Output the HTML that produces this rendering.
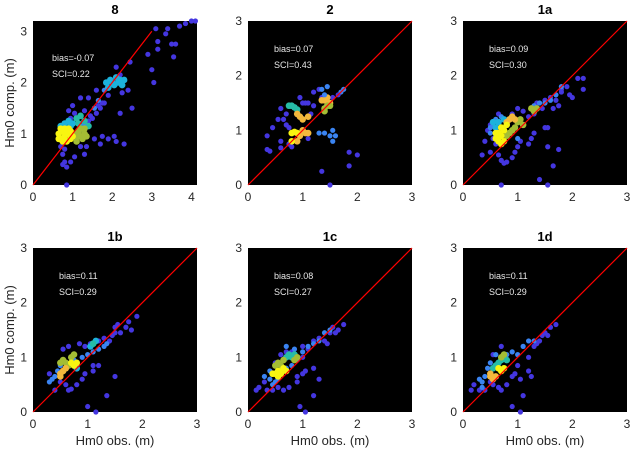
<!DOCTYPE html>
<html><head><meta charset="utf-8"><style>
body{margin:0;background:#fff}
svg{display:block;font-family:"Liberation Sans",Arial,sans-serif}
</style></head><body>
<svg id="fig" width="637" height="455" viewBox="0 0 637 455"></svg>
<script>
const panelNames = ["8","2","1a","1b","1c","1d"];
const biasVals = ["-0.07","0.07","0.09","0.11","0.08","0.11"];
const sciVals = ["0.22","0.43","0.30","0.29","0.27","0.29"];
const xMaxes = [4.14,3,3,3,3,3];
const yMaxes = [3.2,3,3,3,3,3];
const xTicks8 = [0,1,2,3,4];
const ticks3 = [0,1,2,3];
const densColors = ["#4436e0","#3a84f2","#1cb2dc","#26bca6","#a4bd34","#f3b83c","#f8f510"];
const p8 = [[4.1,3.2,0],[4.0,3.2,0],[3.85,3.15,0],[3.7,3.1,0],[3.4,3.05,0],[3.1,3.05,0],[3.35,2.95,0],[3.5,2.75,0],[3.6,2.75,0],[3.15,2.8,0],[3.15,2.65,0],[2.9,2.55,0],[3.55,2.5,0],[3.0,2.25,0],[3.05,2.0,0],[2.4,1.85,0],[2.25,1.8,0],[2.2,1.4,0],[2.5,1.5,0],[2.45,2.4,0],[2.2,2.15,0],[2.1,2.3,0],[1.75,1.6,0],[1.6,1.85,0],[1.65,1.55,0],[1.4,1.7,0],[1.2,1.7,0],[1.0,1.55,0],[0.9,1.45,0],[1.05,1.4,0],[1.3,1.45,0],[0.95,1.3,0],[1.75,0.95,0],[1.55,0.9,0],[1.9,0.9,0],[2.05,0.95,0],[2.1,0.85,0],[2.3,0.8,0],[1.2,0.75,0],[1.3,0.6,0],[1.05,0.55,0],[0.95,0.45,0],[0.8,0.45,0],[0.75,0.4,0],[0.85,0.35,0],[0.75,0.6,0],[0.8,0.7,0],[0.7,0.75,0],[0.85,0.0,0],[1.7,0.8,0],[1.35,0.75,0],[1.4,1.25,0],[1.5,1.3,0],[1.6,1.4,0],[1.7,1.5,0],[1.8,1.6,0],[1.9,1.75,0],[1.45,1.35,0],[1.55,1.5,1],[1.65,1.65,1],[1.8,1.85,1],[1.3,1.2,1],[1.2,1.15,1],[1.85,2.0,2],[1.95,2.05,2],[2.05,1.95,2],[2.15,2.0,2],[2.2,2.05,2],[1.9,1.9,2],[2.0,2.0,2],[2.1,2.1,2],[2.25,1.95,2],[2.3,2.05,2],[0.7,1.15,2],[0.8,1.2,2],[0.9,1.25,2],[1.0,1.2,2],[1.1,1.3,3],[1.2,1.35,3],[1.3,1.25,3],[0.75,1.1,2],[0.95,1.15,2],[1.15,1.2,3],[1.25,1.1,3],[1.4,1.15,3],[1.1,0.95,4],[1.2,0.95,4],[1.3,1.0,4],[1.15,1.05,4],[1.25,0.9,4],[1.35,0.95,4],[1.1,0.85,4],[1.2,1.1,4],[1.05,1.0,4],[1.3,1.1,4],[0.65,1.0,6],[0.7,0.9,6],[0.75,1.05,6],[0.8,0.95,6],[0.85,0.85,6],[0.9,1.0,6],[0.95,0.9,6],[0.7,1.1,6],[0.8,1.1,6],[0.9,1.1,6],[1.0,0.95,6],[0.75,0.85,6],[0.85,1.0,6],[0.95,1.05,6],[0.65,0.9,6]];
const p2 = [[0.55,1.2,0],[0.6,1.4,0],[0.35,0.9,0],[0.35,0.65,0],[0.4,0.62,0],[0.45,1.05,0],[0.6,0.8,0],[0.6,0.68,0],[0.7,1.1,0],[0.65,1.2,0],[0.7,1.3,0],[0.75,1.05,0],[0.75,0.75,0],[0.8,0.7,0],[0.95,1.6,0],[1.0,1.5,0],[1.05,1.5,0],[1.1,1.5,0],[1.2,1.45,0],[1.15,1.3,0],[1.2,1.7,0],[1.3,1.75,0],[1.35,1.6,0],[1.45,1.8,1],[1.1,0.85,0],[1.55,1.6,0],[1.7,1.7,1],[1.85,0.6,0],[2.0,0.55,0],[1.85,0.35,0],[1.35,0.25,0],[1.5,0.0,0],[1.3,0.95,1],[1.4,0.95,1],[1.5,0.9,1],[1.55,0.8,1],[1.6,0.9,1],[1.55,1.0,1],[0.75,1.45,3],[0.8,1.45,3],[0.85,1.42,3],[0.9,1.38,3],[0.9,1.3,5],[0.95,1.25,5],[1.0,1.2,5],[1.1,1.25,5],[1.35,1.55,5],[1.4,1.55,5],[1.45,1.6,5],[1.5,1.5,5],[0.95,0.9,5],[1.05,0.95,5],[1.1,0.95,5],[0.9,0.8,5],[0.8,0.8,6],[1.0,1.0,5],[0.8,0.95,6],[0.85,0.97,6],[0.9,0.95,6],[1.4,1.4,4],[1.45,1.45,4],[1.5,1.45,4],[1.4,1.35,4],[1.35,1.75,1],[1.4,1.65,1],[1.75,1.75,1],[1.65,1.65,0]];
const p1a = [[0.4,0.8,0],[0.35,0.55,0],[0.5,0.6,0],[0.65,0.55,0],[0.7,0.45,0],[0.75,0.4,0],[0.8,0.42,0],[0.9,0.5,0],[0.95,0.6,0],[1.0,0.7,0],[1.05,0.8,0],[1.2,0.75,0],[1.25,0.85,0],[1.3,0.95,0],[1.5,1.05,0],[1.55,1.05,0],[1.55,0.7,0],[1.75,0.65,0],[1.65,0.35,0],[1.4,0.1,0],[1.55,0.0,0],[0.7,0.0,0],[1.0,1.4,0],[0.9,1.3,0],[0.65,1.3,0],[1.1,1.35,0],[1.35,1.5,0],[1.5,1.55,0],[1.6,1.6,0],[1.7,1.55,0],[1.8,1.7,0],[1.8,1.75,0],[1.9,1.8,0],[1.95,1.65,0],[2.1,1.95,0],[2.2,1.95,0],[2.2,1.75,0],[2.0,1.6,0],[1.75,1.45,0],[1.65,1.4,0],[1.45,1.4,0],[1.3,1.3,0],[1.2,1.25,0],[0.45,1.0,0],[0.5,1.1,0],[0.55,0.85,0],[0.6,0.75,0],[0.5,1.05,1],[0.55,1.1,1],[0.6,0.9,1],[0.6,1.2,1],[0.7,1.25,1],[1.0,0.85,1],[1.1,1.1,1],[1.3,1.45,1],[1.4,1.5,1],[1.5,1.5,1],[1.6,1.55,1],[1.7,1.65,1],[1.8,1.8,1],[0.5,0.95,1],[0.55,1.15,2],[0.6,1.05,2],[0.65,1.15,2],[0.75,1.2,2],[0.8,0.9,4],[0.85,0.95,4],[0.9,1.0,4],[0.95,1.05,4],[1.0,1.15,4],[1.05,1.2,4],[1.1,1.1,4],[1.3,1.35,4],[1.35,1.4,4],[1.25,1.4,4],[0.85,1.2,5],[0.9,1.25,5],[0.95,1.2,5],[0.8,1.15,5],[0.6,0.85,6],[0.65,0.95,6],[0.7,0.9,6],[0.7,1.05,6],[0.75,1.0,6],[0.65,0.8,6],[0.75,0.8,6],[0.8,1.1,6],[0.6,0.95,6],[0.7,0.75,6]];
const p1b = [[0.3,0.7,0],[0.4,0.4,0],[0.5,0.55,0],[0.6,0.5,0],[0.65,0.4,0],[0.7,0.42,0],[0.8,0.5,0],[0.9,0.6,0],[0.95,0.7,0],[1.1,0.75,0],[1.1,0.85,0],[1.2,0.85,0],[1.5,0.65,0],[1.35,0.3,0],[1.0,0.1,0],[1.15,0.0,0],[0.55,1.15,0],[0.65,1.2,0],[0.85,1.25,0],[0.95,1.2,0],[1.05,1.25,0],[1.2,1.3,0],[1.3,1.35,0],[1.4,1.3,0],[1.5,1.55,0],[1.55,1.6,0],[1.7,1.55,0],[1.75,1.65,0],[1.8,1.5,0],[1.9,1.75,0],[1.45,1.4,0],[1.5,1.45,0],[1.6,1.45,0],[0.3,0.55,1],[0.35,0.6,1],[0.4,0.65,1],[0.45,0.75,1],[0.5,0.85,1],[0.9,1.0,1],[1.0,1.05,1],[1.1,1.1,1],[1.2,1.15,1],[1.3,1.2,1],[1.35,1.25,1],[0.8,0.85,1],[0.75,0.95,1],[1.05,1.2,2],[1.1,1.25,2],[1.15,1.3,2],[0.8,0.8,2],[1.1,1.25,3],[0.55,0.95,4],[0.6,0.9,4],[0.65,0.85,4],[0.7,1.0,4],[0.75,1.05,4],[0.5,0.9,4],[0.5,0.7,5],[0.55,0.75,5],[0.5,0.65,5],[0.6,0.8,5],[0.7,0.9,6],[0.75,0.85,6],[0.8,0.9,6]];
const p1c = [[0.15,0.4,0],[0.2,0.45,0],[0.3,0.55,0],[0.35,0.4,0],[0.45,0.4,0],[0.55,0.45,0],[0.65,0.4,0],[0.75,0.45,0],[0.9,0.55,0],[0.9,0.65,0],[1.0,0.7,0],[1.05,0.75,0],[1.2,0.8,0],[1.3,0.6,0],[1.2,0.3,0],[0.95,0.1,0],[1.05,0.0,0],[0.5,0.9,0],[0.6,1.05,0],[0.7,1.1,0],[0.8,1.1,0],[1.0,1.0,0],[1.1,1.15,0],[1.2,1.3,0],[1.3,1.35,0],[1.4,1.3,0],[1.5,1.45,0],[1.6,1.45,0],[1.65,1.5,0],[1.75,1.6,0],[1.55,1.55,0],[1.45,1.25,0],[1.0,1.2,0],[0.3,0.65,1],[0.4,0.6,1],[0.45,0.5,1],[0.5,0.55,1],[0.55,0.6,1],[0.6,0.7,1],[0.7,0.8,1],[0.8,0.85,1],[0.9,0.95,1],[1.0,1.1,1],[1.1,1.2,1],[1.2,1.25,1],[1.3,1.3,1],[1.4,1.45,1],[1.5,1.5,1],[0.7,1.2,1],[0.85,1.15,1],[0.4,0.75,1],[0.7,1.0,3],[0.75,1.05,3],[0.8,1.0,3],[0.85,1.05,3],[0.5,0.85,4],[0.55,0.9,4],[0.6,0.85,4],[0.65,0.95,4],[0.85,0.95,4],[0.9,1.0,4],[0.5,0.7,6],[0.55,0.75,6],[0.6,0.7,6],[0.65,0.8,6],[0.7,0.75,6],[0.55,0.65,6],[0.45,0.7,6]];
const p1d = [[0.15,0.4,0],[0.2,0.5,0],[0.3,0.4,0],[0.4,0.4,0],[0.5,0.55,0],[0.55,0.5,0],[0.65,0.45,0],[0.7,0.4,0],[0.8,0.5,0],[0.9,0.65,0],[0.95,0.7,0],[1.05,0.6,0],[1.0,0.85,0],[1.25,0.65,0],[1.2,0.75,0],[1.1,0.3,0],[0.9,0.1,0],[1.05,0.0,0],[1.2,1.0,0],[1.3,1.2,0],[1.4,1.3,0],[1.45,1.4,0],[1.5,1.45,0],[1.6,1.55,0],[1.7,1.6,0],[1.55,1.4,0],[1.35,1.25,0],[0.7,1.2,0],[0.55,1.05,0],[0.3,0.6,1],[0.35,0.55,1],[0.4,0.65,1],[0.45,0.8,1],[0.5,0.9,1],[0.6,1.05,1],[0.8,1.05,1],[0.9,1.1,1],[1.0,1.05,1],[1.1,1.2,1],[1.2,1.3,1],[1.3,1.3,1],[0.35,0.45,1],[0.55,0.8,3],[0.6,0.85,3],[0.65,0.9,3],[0.7,0.95,3],[0.75,1.0,3],[0.8,0.95,3],[0.7,1.0,4],[0.75,1.05,4],[0.5,0.65,5],[0.55,0.6,5],[0.5,0.7,5],[0.6,0.65,5],[0.65,0.8,6],[0.7,0.75,6],[0.75,0.8,6]];
const panelData = [p8,p2,p1a,p1b,p1c,p1d];

const NS = "http://www.w3.org/2000/svg";
const svg = document.getElementById("fig");
function mk(tag, attrs, parent){const e=document.createElementNS(NS,tag);for(const k in attrs)e.setAttribute(k,attrs[k]);(parent||svg).appendChild(e);return e;}
const colL=[33,248,463], rowT=[21,248], W=164, H=164;
panelNames.forEach((name,i)=>{
  const L=colL[i%3], T=rowT[Math.floor(i/3)], B=T+H;
  const xm=xMaxes[i], ym=yMaxes[i];
  const sx=v=>L+v/xm*W, sy=v=>B-v/ym*H;
  const g=mk("g",{});
  
  
  const bg=mk("rect",{x:L,y:T,width:W,height:H,fill:"#000"},g);
  
  
  const t=mk("text",{x:L+W/2,y:T-7,"text-anchor":"middle","font-size":"13","font-weight":"bold",fill:"#000"},g);
  t.textContent=name;
  
  
  const xt = i===0 ? xTicks8 : ticks3;
  xt.forEach(v=>{const e=mk("text",{x:sx(v),y:B+16,"text-anchor":"middle","font-size":"12",fill:"#262626"},g);e.textContent=v;
    
    });
  ticks3.forEach(v=>{const e=mk("text",{x:L-6,y:sy(v)+4,"text-anchor":"end","font-size":"12",fill:"#262626"},g);e.textContent=v;
    
    });
  panelData[i].forEach(p=>{const c=mk("circle",{cx:sx(p[0]),cy:sy(p[1]),r:p[2]>=2?3.3:2.6,fill:densColors[p[2]]},g);
    
    });
  const lm = i===0 ? 3 : 3;
  const ln=mk("line",{x1:sx(0),y1:sy(0),x2:sx(lm),y2:sy(lm),stroke:"#f00","stroke-width":1.2},g);
  
  
  const tx = i===0 ? L+19 : L+26, ty = i===0 ? T+40 : T+31;
  const b=mk("text",{x:tx,y:ty,"font-size":"9",fill:"#e8e8e8"},g);b.textContent="bias="+biasVals[i];
  
  
  const s=mk("text",{x:tx,y:ty+16,"font-size":"9",fill:"#e8e8e8"},g);s.textContent="SCI="+sciVals[i];
  
  
  if(i%3===0){const y=mk("text",{x:14,y:T+H/2,"text-anchor":"middle","font-size":"13",fill:"#262626",transform:"rotate(-90 14 "+(T+H/2)+")"},g);y.textContent="Hm0 comp. (m)";
    
    }
  if(i>=3){const x=mk("text",{x:L+W/2,y:445,"text-anchor":"middle","font-size":"13",fill:"#262626"},g);x.textContent="Hm0 obs. (m)";
    
    }
});
</script>
</body></html>
